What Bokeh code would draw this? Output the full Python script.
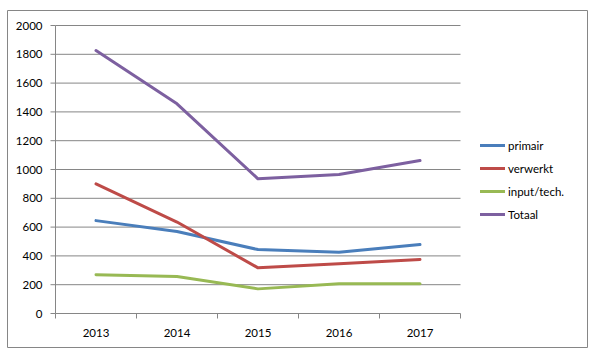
from bokeh.plotting import figure
from bokeh.models import Range1d, Legend, LegendItem
from bokeh.core.properties import value
from bokeh.embed import file_html
from bokeh.resources import INLINE

years = ["2013", "2014", "2015", "2016", "2017"]
primair = [645, 570, 444, 426, 479]
verwerkt = [900, 635, 317, 345, 375]
input_tech = [269, 257, 171, 206, 206]
totaal = [1826, 1456, 935, 965, 1062]
y_ticks = [0, 200, 400, 600, 800, 1000, 1200, 1400, 1600, 1800, 2000]

series = [
    ("primair", primair, "#4A7EBB"),
    ("verwerkt", verwerkt, "#BE4B48"),
    ("input/tech.", input_tech, "#98B954"),
    ("Totaal", totaal, "#7D60A0"),
]

FONT = "Lato"
GRID = "#868686"
W, H = 591, 355
# outer chart box (canvas px) and plot-area box (canvas px)
BOX_L, BOX_R, BOX_T, BOX_B = 7, 587, 10, 347
PA_L, PA_R, PA_T, PA_B = 55, 460, 25, 313

n = len(years)
x0, x1 = -0.5, n - 0.5
y0, y1 = y_ticks[0], y_ticks[-1]
xpp = (x1 - x0) / (PA_R - PA_L)   # data units per px
ypp = (y1 - y0) / (PA_B - PA_T)

p = figure(width=W, height=H, output_backend="svg", toolbar_location=None,
           x_axis_type=None, y_axis_type=None,
           x_range=Range1d(x0 - (PA_L - BOX_L) * xpp, x1 + (BOX_R - PA_R) * xpp),
           y_range=Range1d(y0 - (BOX_B - PA_B) * ypp, y1 + (PA_T - BOX_T) * ypp),
           min_border_left=BOX_L, min_border_right=W - BOX_R,
           min_border_top=BOX_T, min_border_bottom=H - BOX_B)
p.grid.visible = False
p.outline_line_color = GRID
p.outline_line_width = 1
p.background_fill_color = "white"
p.border_fill_color = "white"

xs = list(range(n))
tick = 5

# gridlines
p.segment(x0=[x0] * len(y_ticks), x1=[x1] * len(y_ticks), y0=y_ticks, y1=y_ticks,
          line_color=GRID, line_width=1)
# y axis line and ticks
p.segment(x0=[x0], x1=[x0], y0=[y0], y1=[y1], line_color=GRID, line_width=1)
p.segment(x0=[x0 - tick * xpp] * len(y_ticks), x1=[x0] * len(y_ticks), y0=y_ticks, y1=y_ticks,
          line_color=GRID, line_width=1)
# x axis ticks between categories
bounds = [i - 0.5 for i in range(n + 1)]
p.segment(x0=bounds, x1=bounds, y0=[y0] * len(bounds), y1=[y0 - tick * ypp] * len(bounds),
          line_color=GRID, line_width=1)

# tick labels
p.text(x=[x0] * len(y_ticks), y=y_ticks, text=[str(v) for v in y_ticks],
       x_offset=-13, text_align="right", text_baseline="middle",
       text_font=value(FONT), text_font_size="11.5px", text_color="#000000")
p.text(x=xs, y=[y0] * n, text=years, y_offset=19, text_align="center", text_baseline="middle",
       text_font=value(FONT), text_font_size="11.5px", text_color="#000000")

items = []
for name, vals, col in series:
    r = p.line(xs, vals, line_color=col, line_width=3, line_join="round", line_cap="round")
    items.append(LegendItem(label=name, renderers=[r]))

legend = Legend(items=items, location=(473, 123), orientation="vertical",
                label_text_font=FONT, label_text_font_size="11.5px", label_text_color="#000000",
                glyph_width=25, glyph_height=20, label_height=20, spacing=3,
                label_standoff=3, padding=0, margin=0,
                border_line_color=None, background_fill_alpha=0)
p.add_layout(legend, "center")

open("out.html", "w").write(file_html(p, INLINE))
